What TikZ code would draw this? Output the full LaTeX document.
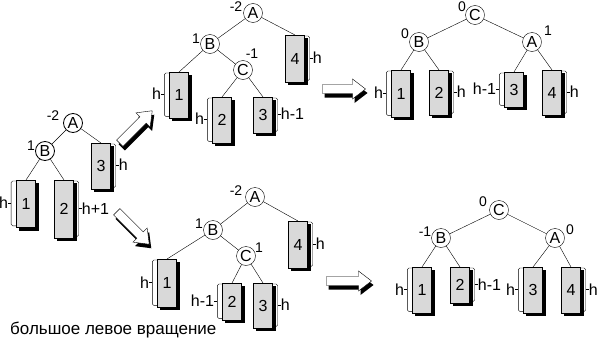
\documentclass[tikz,border=0pt]{standalone}
\usepackage{fontspec}
\setmainfont{Liberation Sans}
\usetikzlibrary{calc,backgrounds}

\tikzset{
  vert/.style={circle, draw, fill=white, inner sep=0pt, minimum size=19pt, font=\fontsize{16}{16}\selectfont},
  bal/.style={inner sep=0pt, font=\fontsize{14}{14}\selectfont},
  tbox/.style={draw, fill=black!15, minimum width=19pt, inner sep=0pt, font=\fontsize{16}{16}\selectfont},
  hbracket/.style={draw, fill=white, rounded corners=1.5pt},
  hlabel/.style={inner sep=0pt, font=\fontsize{16}{16}\selectfont},
  barrow/.style={draw, fill=white},
  barrowshadow/.style={fill=black}
}

% name, top (x,y), height, digit, side, shift, label anchor, label
\newcommand\subtree[8]{%
  \node[tbox, minimum height=#3pt, anchor=north] (#1) at (#2) {#4};
  \begin{pgfonlayer}{background}
    \draw[hbracket] ($(#1.north #5)+(#6,1)$) rectangle ($(#1.south)+(0,-2)$);
    \fill ($(#1.north west)+(3,3)$) rectangle ($(#1.south east)+(3,3)$);
  \end{pgfonlayer}
  \coordinate (#1h) at ($(#1.#5)+(#6,-1)$);
  \node[hlabel, anchor=#7] (#1l) at ($(#1h)+(#6*0.6,0)$) {#8};
  \draw (#1h) -- (#1l.#7);
}

% name, centre, angle, length
\newcommand\blockarrow[4]{%
  \coordinate (#1) at (#2);
  \fill[barrowshadow, shift={(#1)}, shift={(2,4)}, rotate=#3]
    (-#4/2,-4.5) -- (#4/2-13,-4.5) -- (#4/2-13,-10) -- (#4/2,0)
    -- (#4/2-13,10) -- (#4/2-13,4.5) -- (-#4/2,4.5) -- cycle;
  \draw[barrow, shift={(#1)}, rotate=#3]
    (-#4/2,-4.5) -- (#4/2-13,-4.5) -- (#4/2-13,-10) -- (#4/2,0)
    -- (#4/2-13,10) -- (#4/2-13,4.5) -- (-#4/2,4.5) -- cycle;
}

\begin{document}
\begin{tikzpicture}[x=1pt, y=-1pt, line width=0.8pt]
  \useasboundingbox (0,0) rectangle (599,340);

  %tree 1
  \node[vert] (A1) at (73,123) {A};
  \node[vert] (B1) at (45,151) {B};
  \node[bal] (A1b) at (53,116) {-2};
  \node[bal] (B1b) at (31,146) {1};
  \subtree{t1s1}{26,180}{47}{1}{west}{-5}{east}{h}
  \subtree{t1s2}{64,180}{58}{2}{east}{5}{west}{h+1}
  \subtree{t1s3}{101,143}{46}{3}{east}{5}{west}{h}
  \draw (A1) -- (B1);
  \draw (A1) -- (t1s3.north);
  \draw (B1) -- (t1s1.north);
  \draw (B1) -- (t1s2.north);

  %arrows
  \blockarrow{ar1}{136,127}{45}{46}
  \blockarrow{ar2}{133,228}{-45}{46}
  \blockarrow{ar3}{344,89}{0}{43}
  \blockarrow{ar4}{349,281}{0}{45}

  %tree 2
  \node[vert] (A2) at (253,13) {A};
  \node[vert] (B2) at (210,44) {B};
  \node[vert] (C2) at (243,70) {C};
  \node[bal] (A2b) at (236,7) {-2};
  \node[bal] (B2b) at (196,39) {1};
  \node[bal] (C2b) at (252,54) {-1};
  \subtree{t2s1}{179,72}{46}{1}{west}{-5}{east}{h}
  \subtree{t2s2}{222,97}{46}{2}{west}{-5}{east}{h}
  \subtree{t2s3}{263,97}{36}{3}{east}{5}{west}{h-1}
  \subtree{t2s4}{295,35}{47}{4}{east}{5}{west}{h}
  \draw (A2) -- (B2);
  \draw (A2) -- (t2s4.north);
  \draw (B2) -- (t2s1.north);
  \draw (B2) -- (C2);
  \draw (C2) -- (t2s2.north);
  \draw (C2) -- (t2s3.north);

  %tree 3
  \node[vert] (C3) at (475,15) {C};
  \node[vert] (B3) at (419,42) {B};
  \node[vert] (A3) at (532,42) {A};
  \node[bal] (C3b) at (462,7) {0};
  \node[bal] (B3b) at (405,34) {0};
  \node[bal] (A3b) at (548,31) {1};
  \subtree{t3s1}{401,70}{47}{1}{west}{-5}{east}{h}
  \subtree{t3s2}{439,70}{45}{2}{east}{5}{west}{h}
  \subtree{t3s3}{514,72}{35}{3}{west}{-5}{east}{h-1}
  \subtree{t3s4}{552,70}{45}{4}{east}{5}{west}{h}
  \draw (C3) -- (B3);
  \draw (C3) -- (A3);
  \draw (B3) -- (t3s1.north);
  \draw (B3) -- (t3s2.north);
  \draw (A3) -- (t3s3.north);
  \draw (A3) -- (t3s4.north);

  %tree 4
  \node[vert] (A4) at (255,197) {A};
  \node[vert] (B4) at (213,230) {B};
  \node[vert] (C4) at (246,256) {C};
  \node[bal] (A4b) at (236,191) {-2};
  \node[bal] (B4b) at (199,224) {1};
  \node[bal] (C4b) at (259,248) {1};
  \subtree{t4s1}{167,259}{48}{1}{west}{-5}{east}{h}
  \subtree{t4s2}{232,283}{37}{2}{west}{-5}{east}{h-1}
  \subtree{t4s3}{263,283}{45}{3}{east}{5}{west}{h}
  \subtree{t4s4}{298,221}{47}{4}{east}{5}{west}{h}
  \draw (A4) -- (B4);
  \draw (A4) -- (t4s4.north);
  \draw (B4) -- (t4s1.north);
  \draw (B4) -- (C4);
  \draw (C4) -- (t4s2.north);
  \draw (C4) -- (t4s3.north);

  %tree 5
  \node[vert] (C5) at (499,210) {C};
  \node[vert] (B5) at (441,238) {B};
  \node[vert] (A5) at (555,238) {A};
  \node[bal] (C5b) at (483,202) {0};
  \node[bal] (B5b) at (425,232) {-1};
  \node[bal] (A5b) at (570,230) {0};
  \subtree{t5s1}{422,267}{46}{1}{west}{-5}{east}{h}
  \subtree{t5s2}{460,267}{36}{2}{east}{5}{west}{h-1}
  \subtree{t5s3}{533,267}{46}{3}{west}{-5}{east}{h}
  \subtree{t5s4}{571,267}{46}{4}{east}{5}{west}{h}
  \draw (C5) -- (B5);
  \draw (C5) -- (A5);
  \draw (B5) -- (t5s1.north);
  \draw (B5) -- (t5s2.north);
  \draw (A5) -- (t5s3.north);
  \draw (A5) -- (t5s4.north);

  \node[anchor=west, inner sep=0pt, font=\fontsize{17}{17}\selectfont] (caption) at (10,330) {большое левое вращение};
\end{tikzpicture}
\end{document}
